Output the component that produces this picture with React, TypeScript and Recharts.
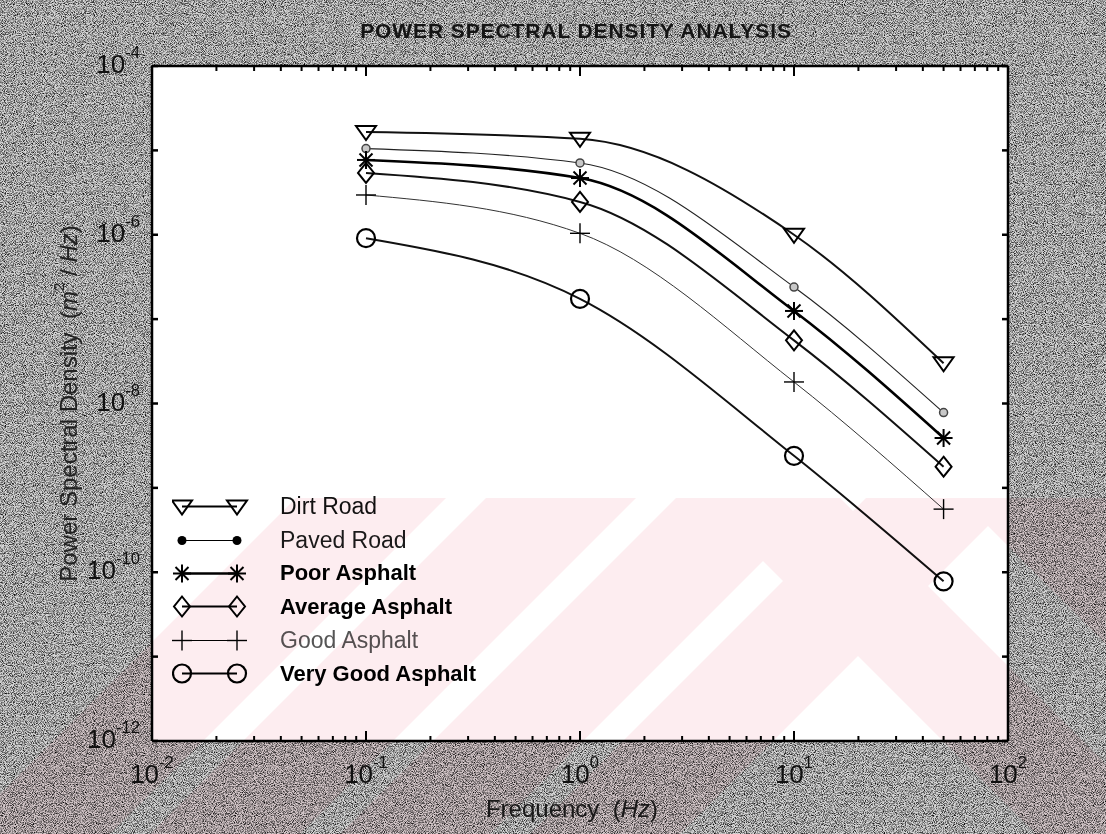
import React from 'react';
import { LineChart, Line, XAxis, YAxis, CartesianGrid, Legend, Label } from 'recharts';

// frequency (Hz) of the four measured points
const frequencies = [0.1, 1, 10, 50];

// PSD values (m^2/Hz)
const dirtRoad = [1.65e-5, 1.37e-5, 1.0e-6, 3.0e-8];
const pavedRoad = [1.05e-5, 7.1e-6, 2.4e-7, 7.8e-9];
const poorAsphalt = [7.7e-6, 4.7e-6, 1.25e-7, 3.9e-9];
const averageAsphalt = [5.4e-6, 2.45e-6, 5.6e-8, 1.78e-9];
const goodAsphalt = [2.96e-6, 1.04e-6, 1.8e-8, 5.6e-10];
const veryGoodAsphalt = [9.1e-7, 1.74e-7, 2.4e-9, 7.8e-11];

const seriesNames = ['Dirt Road', 'Paved Road', 'Poor Asphalt', 'Average Asphalt', 'Good Asphalt', 'Very Good Asphalt'];
const seriesKeys = ['dirt', 'paved', 'poor', 'average', 'good', 'veryGood'];

const xDecades = [0.01, 0.1, 1, 10, 100];
const yDecades = [1e-12, 1e-11, 1e-10, 1e-9, 1e-8, 1e-7, 1e-6, 1e-5, 1e-4];
const yLabelled = [-12, -10, -8, -6, -4];

const FONT = '"Liberation Sans", Arial, Helvetica, sans-serif';

const xTicks: number[] = [];
xDecades.forEach((d, i) => {
  xTicks.push(d);
  if (i < xDecades.length - 1) [2, 3, 4, 5, 6, 7, 8, 9].forEach(m => xTicks.push(d * m));
});

const rows = frequencies.map((f, i) => ({
  f,
  dirt: dirtRoad[i],
  paved: pavedRoad[i],
  poor: poorAsphalt[i],
  average: averageAsphalt[i],
  good: goodAsphalt[i],
  veryGood: veryGoodAsphalt[i],
}));

type Kind = 'triangle' | 'dot' | 'star' | 'diamond' | 'plus' | 'circle';
const styles: { kind: Kind; width: number; color: string }[] = [
  { kind: 'triangle', width: 2, color: '#111' },
  { kind: 'dot', width: 1.1, color: '#222' },
  { kind: 'star', width: 2.6, color: '#000' },
  { kind: 'diamond', width: 2, color: '#111' },
  { kind: 'plus', width: 1, color: '#333' },
  { kind: 'circle', width: 2, color: '#111' },
];
const legendWeights = [400, 400, 700, 700, 400, 700];
const legendColors = ['#111', '#1a1a1a', '#000', '#000', '#555', '#000'];

function Marker({ kind, cx, cy, legend }: { kind: Kind; cx: number; cy: number; legend?: boolean }) {
  const s = { stroke: '#000', fill: 'none' };
  switch (kind) {
    case 'triangle':
      return <polygon points={`${cx - 10},${cy - 6} ${cx + 10},${cy - 6} ${cx},${cy + 8}`} {...s} strokeWidth={2} />;
    case 'dot':
      return legend ? (
        <circle cx={cx} cy={cy} r={4.5} fill="#000" />
      ) : (
        <circle cx={cx} cy={cy} r={4} fill="#c8c8c8" stroke="#444" strokeWidth={1.5} />
      );
    case 'star':
      return (
        <g stroke="#000" strokeWidth={2}>
          <line x1={cx} y1={cy - 9} x2={cx} y2={cy + 9} />
          <line x1={cx - 9} y1={cy} x2={cx + 9} y2={cy} />
          <line x1={cx - 6.5} y1={cy - 6.5} x2={cx + 6.5} y2={cy + 6.5} />
          <line x1={cx - 6.5} y1={cy + 6.5} x2={cx + 6.5} y2={cy - 6.5} />
        </g>
      );
    case 'diamond':
      return <polygon points={`${cx},${cy - 10} ${cx + 8},${cy} ${cx},${cy + 10} ${cx - 8},${cy}`} {...s} strokeWidth={2} />;
    case 'plus':
      return (
        <g stroke="#000" strokeWidth={1.4}>
          <line x1={cx} y1={cy - 10} x2={cx} y2={cy + 10} />
          <line x1={cx - 10} y1={cy} x2={cx + 10} y2={cy} />
        </g>
      );
    default:
      return <circle cx={cx} cy={cy} r={9} {...s} strokeWidth={2.2} />;
  }
}

function Pow({ exp, baseSize = 26 }: { exp: number; baseSize?: number }) {
  return (
    <>
      10
      <tspan dy={-15} fontSize={baseSize * 0.64}>{exp}</tspan>
    </>
  );
}

const isDecade = (v: number) => Math.abs(Math.log10(v) - Math.round(Math.log10(v))) < 1e-6;

function BottomTick(props: any) {
  const { x, y, payload } = props;
  const major = isDecade(payload.value);
  return (
    <g>
      <line x1={x} x2={x} y1={y} y2={y - (major ? 10 : 5)} stroke="#000" strokeWidth={2} />
      {major && (
        <text x={x} y={y + 42} textAnchor="middle" fontSize={26} fontFamily={FONT} fill="#111">
          <Pow exp={Math.round(Math.log10(payload.value))} />
        </text>
      )}
    </g>
  );
}

function TopTick(props: any) {
  const { x, y, payload } = props;
  const major = isDecade(payload.value);
  return <line x1={x} x2={x} y1={y} y2={y + (major ? 10 : 5)} stroke="#000" strokeWidth={2} />;
}

function LeftTick(props: any) {
  const { x, y, payload } = props;
  const exp = Math.round(Math.log10(payload.value));
  return (
    <g>
      <line x1={x} x2={x + 6} y1={y} y2={y} stroke="#000" strokeWidth={2.5} />
      {yLabelled.includes(exp) && (
        <text x={x - 12} y={y + 7} textAnchor="end" fontSize={26} fontFamily={FONT} fill="#111">
          <Pow exp={exp} />
        </text>
      )}
    </g>
  );
}

function RightTick(props: any) {
  const { x, y } = props;
  return <line x1={x} x2={x - 6} y1={y} y2={y} stroke="#000" strokeWidth={2.5} />;
}

function TitleLabel(props: any) {
  const vb = props.viewBox;
  return (
    <text x={vb.x + vb.width / 2 - 4} y={38} textAnchor="middle" fontSize={21} fontWeight={700} fontFamily={FONT} fill="#151515" letterSpacing={0.9}>
      POWER SPECTRAL DENSITY ANALYSIS
    </text>
  );
}

function FreqLabel(props: any) {
  const vb = props.viewBox;
  return (
    <text x={vb.x + vb.width / 2 - 8} y={vb.y + 76} textAnchor="middle" fontSize={24} fontFamily={FONT} fill="#1a1a1a">
      Frequency{'\u00a0\u00a0'}(<tspan fontStyle="italic">Hz</tspan>)
    </text>
  );
}

function PsdLabel(props: any) {
  const vb = props.viewBox;
  const cx = 68;
  const cy = vb.y + vb.height / 2;
  return (
    <text x={cx} y={cy} transform={`rotate(-90 ${cx} ${cy})`} textAnchor="middle" dominantBaseline="central" fontSize={24} fontFamily={FONT} fill="#222">
      Power Spectral Density{'\u00a0\u00a0'}(<tspan fontStyle="italic">m</tspan>
      <tspan dy={-10} fontSize={15}>2</tspan>
      <tspan dy={10}>{'\u00a0'}/{'\u00a0'}</tspan>
      <tspan fontStyle="italic">Hz</tspan>)
    </text>
  );
}

function LegendBox() {
  return (
    <div style={{ fontFamily: FONT }}>
      {seriesNames.map((name, i) => (
        <div key={name} style={{ display: 'flex', alignItems: 'center', height: 33.4 }}>
          <svg width={108} height={33} style={{ display: 'block' }}>
            <line x1={10} x2={65} y1={16.5} y2={16.5} stroke="#000" strokeWidth={styles[i].width} />
            <Marker kind={styles[i].kind} cx={10} cy={16.5} legend />
            <Marker kind={styles[i].kind} cx={65} cy={16.5} legend />
          </svg>
          <span style={{ fontSize: legendWeights[i] === 700 ? 22 : 23, fontWeight: legendWeights[i], color: legendColors[i], whiteSpace: 'nowrap' }}>
            {name}
          </span>
        </div>
      ))}
    </div>
  );
}

// faint pink watermark stripes of the scanned page
const stripeStarts = [-40, 150, 340, 530];

export default function App() {
  return (
    <div style={{ position: 'absolute', left: 0, top: 0, width: 1106, height: 834, background: '#d6d6d6', overflow: 'hidden' }}>
      <svg width={1106} height={834} style={{ position: 'absolute', left: 0, top: 0 }}>
        <defs>
          <filter id="grain" x="0" y="0" width="100%" height="100%">
            <feTurbulence type="fractalNoise" baseFrequency="1.1" numOctaves={1} seed={7} result="t" />
            <feColorMatrix in="t" type="matrix" values="0 0 0 0 0  0 0 0 0 0  0 0 0 0 0  2.6 0 0 0 -1.05" />
          </filter>
        </defs>
        <rect width={1106} height={834} filter="url(#grain)" />
      </svg>
      <div style={{ position: 'absolute', left: 0, top: 0 }}>
        <LineChart width={1106} height={834} data={rows} margin={{ top: 46, right: 58, bottom: 33, left: 92 }}>
          <CartesianGrid xAxisId="bottom" yAxisId="left" horizontal={false} vertical={false} fill="#ffffff" />
          <XAxis
            xAxisId="bottom"
            dataKey="f"
            type="number"
            scale="log"
            domain={[0.01, 100]}
            ticks={xTicks}
            interval={0}
            allowDataOverflow
            height={60}
            tickSize={0}
            tickMargin={0}
            tickLine={false}
            tick={<BottomTick />}
            axisLine={{ stroke: '#000', strokeWidth: 2.5 }}
          >
            <Label content={<FreqLabel />} />
          </XAxis>
          <XAxis
            xAxisId="top"
            orientation="top"
            dataKey="f"
            type="number"
            scale="log"
            domain={[0.01, 100]}
            ticks={xTicks}
            interval={0}
            allowDataOverflow
            height={20}
            tickSize={0}
            tickMargin={0}
            tickLine={false}
            tick={<TopTick />}
            axisLine={{ stroke: '#000', strokeWidth: 2.5 }}
          >
            <Label content={<TitleLabel />} />
          </XAxis>
          <YAxis
            yAxisId="left"
            type="number"
            scale="log"
            domain={[1e-12, 1e-4]}
            ticks={yDecades}
            interval={0}
            allowDataOverflow
            width={60}
            tickSize={0}
            tickMargin={0}
            tickLine={false}
            tick={<LeftTick />}
            axisLine={{ stroke: '#000', strokeWidth: 2.5 }}
          >
            <Label content={<PsdLabel />} />
          </YAxis>
          <YAxis
            yAxisId="right"
            orientation="right"
            type="number"
            scale="log"
            domain={[1e-12, 1e-4]}
            ticks={yDecades}
            interval={0}
            allowDataOverflow
            width={40}
            tickSize={0}
            tickMargin={0}
            tickLine={false}
            tick={<RightTick />}
            axisLine={{ stroke: '#000', strokeWidth: 2.5 }}
          />
          <Legend
            layout="vertical"
            align="center"
            verticalAlign="middle"
            content={<LegendBox />}
            wrapperStyle={{ position: 'absolute', left: 172, top: 490, width: 320 }}
          />
          {seriesKeys.map((key, i) => (
            <Line
              key={key}
              xAxisId="bottom"
              yAxisId="left"
              dataKey={key}
              name={seriesNames[i]}
              type="monotone"
              stroke={styles[i].color}
              strokeWidth={styles[i].width}
              isAnimationActive={false}
              dot={(p: any) => <Marker key={`${key}-${p.index}`} kind={styles[i].kind} cx={p.cx} cy={p.cy} />}
              activeDot={false}
            />
          ))}
        </LineChart>
      </div>
      <svg width={1106} height={834} style={{ position: 'absolute', left: 0, top: 0, mixBlendMode: 'multiply', pointerEvents: 'none' }}>
        {stripeStarts.map(s => (
          <polygon key={s} points={`${s},834 ${s + 150},834 ${s + 486},498 ${s + 336},498`} fill="#fdedf0" />
        ))}
        <polygon points="700,498 840,498 1106,764 1106,834 1036,834" fill="#fdedf0" />
        <polygon points="960,498 1106,498 1106,644" fill="#fdedf0" />
      </svg>
    </div>
  );
}
